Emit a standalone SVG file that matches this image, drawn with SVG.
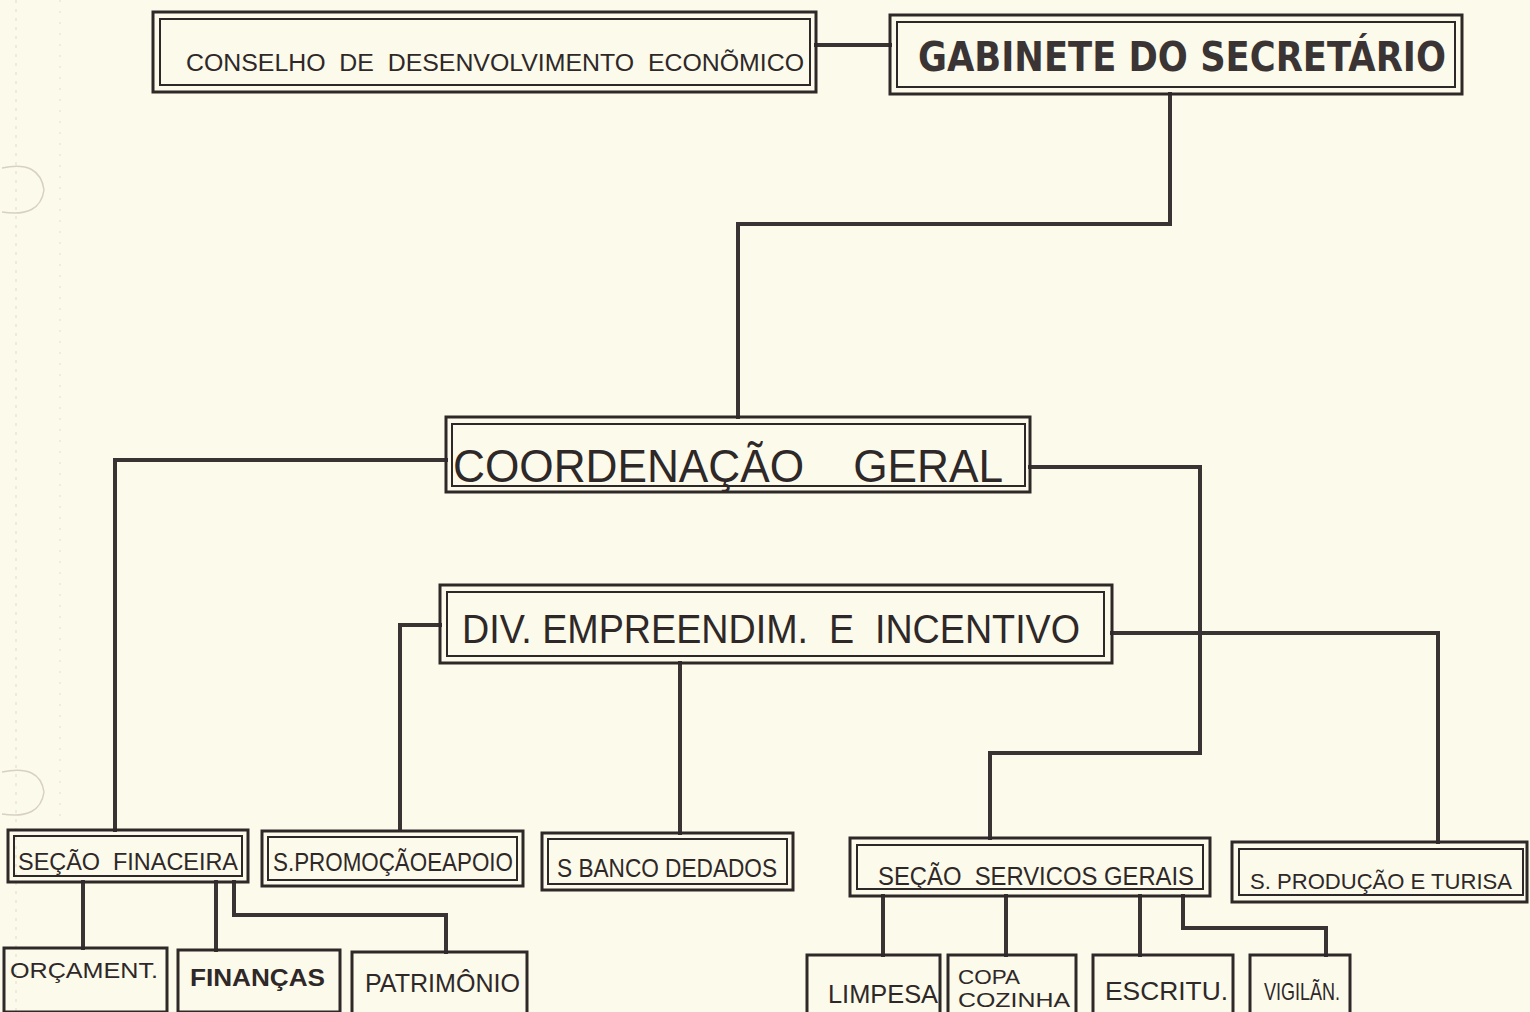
<svg xmlns="http://www.w3.org/2000/svg" width="1530" height="1012" viewBox="0 0 1530 1012">
<style>
.o{fill:none;stroke:#2e2828;stroke-width:3}
.i{fill:none;stroke:#2e2828;stroke-width:2}
.s{fill:none;stroke:#2e2828;stroke-width:3}
.c{fill:none;stroke:#3a3333;stroke-width:4;stroke-linejoin:miter;stroke-linecap:square}
.t{font-family:"Liberation Sans","DejaVu Sans",sans-serif;fill:#2e2828;white-space:pre}
.b{font-family:"DejaVu Sans","Liberation Sans",sans-serif;font-weight:bold;fill:#3a3434}
.art{fill:none;stroke:#d8d0c4;stroke-width:1.5}
</style>
<rect x="0" y="0" width="1530" height="1012" fill="#fcfaea"/>
<g id="artifacts">
<path class="art" d="M2 168 Q40 160 44 190 Q40 218 2 212"/>
<path class="art" d="M2 772 Q40 764 44 792 Q40 820 2 814"/>
<line x1="16" y1="0" x2="16" y2="1012" stroke="#e2dace" stroke-width="1" stroke-dasharray="3 6"/>
<line x1="60" y1="0" x2="60" y2="820" stroke="#e6ded2" stroke-width="1" stroke-dasharray="2 9"/>
</g>
<g id="connectors">
<polyline class="c" points="816,45 890,45"/>
<polyline class="c" points="1170,94 1170,224 738,224 738,417"/>
<polyline class="c" points="446,460 115,460 115,830"/>
<polyline class="c" points="1030,467 1200,467 1200,753 990,753 990,838"/>
<polyline class="c" points="440,625 400,625 400,830"/>
<polyline class="c" points="680,663 680,833"/>
<polyline class="c" points="1112,633 1438,633 1438,842"/>
<polyline class="c" points="83,882 83,948"/>
<polyline class="c" points="216,882 216,950"/>
<polyline class="c" points="234,882 234,915 446,915 446,952"/>
<polyline class="c" points="883,896 883,955"/>
<polyline class="c" points="1006,896 1006,955"/>
<polyline class="c" points="1140,896 1140,955"/>
<polyline class="c" points="1183,896 1183,928 1326,928 1326,955"/>
</g>
<g id="conselho">
<rect class="o" x="153" y="12" width="663" height="80"/>
<rect class="i" x="160" y="19" width="650" height="66"/>
<text class="t" x="186" y="71" font-size="23" textLength="618" lengthAdjust="spacingAndGlyphs">CONSELHO  DE  DESENVOLVIMENTO  ECONÕMICO</text>
</g>
<g id="gabinete">
<rect class="o" x="890" y="15" width="572" height="79"/>
<rect class="i" x="897" y="22" width="558" height="65"/>
<text class="b" x="918" y="71" font-size="41" textLength="528" lengthAdjust="spacingAndGlyphs">GABINETE DO SECRETÁRIO</text>
</g>
<g id="coordenacao">
<rect class="o" x="446" y="417" width="584" height="75"/>
<rect class="i" x="452" y="424" width="573" height="62"/>
<text class="t" x="453" y="482" font-size="46" textLength="550" lengthAdjust="spacingAndGlyphs">COORDENAÇÃO    GERAL</text>
</g>
<g id="div">
<rect class="o" x="440" y="585" width="672" height="78"/>
<rect class="i" x="447" y="592" width="657" height="64"/>
<text class="t" x="462" y="643" font-size="40" textLength="618" lengthAdjust="spacingAndGlyphs">DIV. EMPREENDIM.  E  INCENTIVO</text>
</g>
<g id="secao-financeira">
<rect class="o" x="8" y="830" width="240" height="52"/>
<rect class="i" x="14" y="836" width="228" height="40"/>
<text class="t" x="18" y="870" font-size="23" textLength="220" lengthAdjust="spacingAndGlyphs">SEÇÃO  FINACEIRA</text>
</g>
<g id="s-promocao">
<rect class="o" x="262" y="831" width="261" height="55"/>
<rect class="i" x="268" y="837" width="249" height="43"/>
<text class="t" x="273" y="871" font-size="25" textLength="240" lengthAdjust="spacingAndGlyphs">S.PROMOÇÃOEAPOIO</text>
</g>
<g id="s-banco">
<rect class="o" x="542" y="833" width="251" height="57"/>
<rect class="i" x="548" y="839" width="239" height="45"/>
<text class="t" x="557" y="877" font-size="25" textLength="220" lengthAdjust="spacingAndGlyphs">S BANCO DEDADOS</text>
</g>
<g id="secao-servicos">
<rect class="o" x="850" y="838" width="360" height="58"/>
<rect class="i" x="857" y="845" width="346" height="44"/>
<text class="t" x="878" y="885" font-size="25" textLength="316" lengthAdjust="spacingAndGlyphs">SEÇÃO  SERVICOS GERAIS</text>
</g>
<g id="s-producao">
<rect class="o" x="1232" y="842" width="295" height="60"/>
<rect class="i" x="1239" y="849" width="284" height="46"/>
<text class="t" x="1250" y="889" font-size="22" textLength="262" lengthAdjust="spacingAndGlyphs">S. PRODUÇÃO E TURISA</text>
</g>
<g id="orcament">
<rect class="s" x="4" y="948" width="163" height="64"/>
<text class="t" x="10" y="978" font-size="22" textLength="148" lengthAdjust="spacingAndGlyphs">ORÇAMENT.</text>
</g>
<g id="financas">
<rect class="s" x="178" y="950" width="162" height="62"/>
<text class="t" x="190" y="986" font-size="24" font-weight="bold" textLength="135" lengthAdjust="spacingAndGlyphs">FINANÇAS</text>
</g>
<g id="patrimonio">
<rect class="s" x="352" y="952" width="175" height="62"/>
<text class="t" x="365" y="992" font-size="25" textLength="155" lengthAdjust="spacingAndGlyphs">PATRIMÔNIO</text>
</g>
<g id="limpesa">
<rect class="s" x="807" y="955" width="133" height="62"/>
<text class="t" x="828" y="1003" font-size="26" textLength="110" lengthAdjust="spacingAndGlyphs">LIMPESA</text>
</g>
<g id="copa-cozinha">
<rect class="s" x="948" y="955" width="128" height="62"/>
<text class="t" x="958" y="984" font-size="21" textLength="62" lengthAdjust="spacingAndGlyphs">COPA</text>
<text class="t" x="958" y="1007" font-size="21" textLength="112" lengthAdjust="spacingAndGlyphs">COZINHA</text>
</g>
<g id="escritu">
<rect class="s" x="1093" y="955" width="140" height="62"/>
<text class="t" x="1105" y="1000" font-size="26" textLength="123" lengthAdjust="spacingAndGlyphs">ESCRITU.</text>
</g>
<g id="vigilan">
<rect class="s" x="1250" y="955" width="100" height="62"/>
<text class="t" x="1264" y="1000" font-size="24" textLength="76" lengthAdjust="spacingAndGlyphs">VIGILÃN.</text>
</g>
</svg>
